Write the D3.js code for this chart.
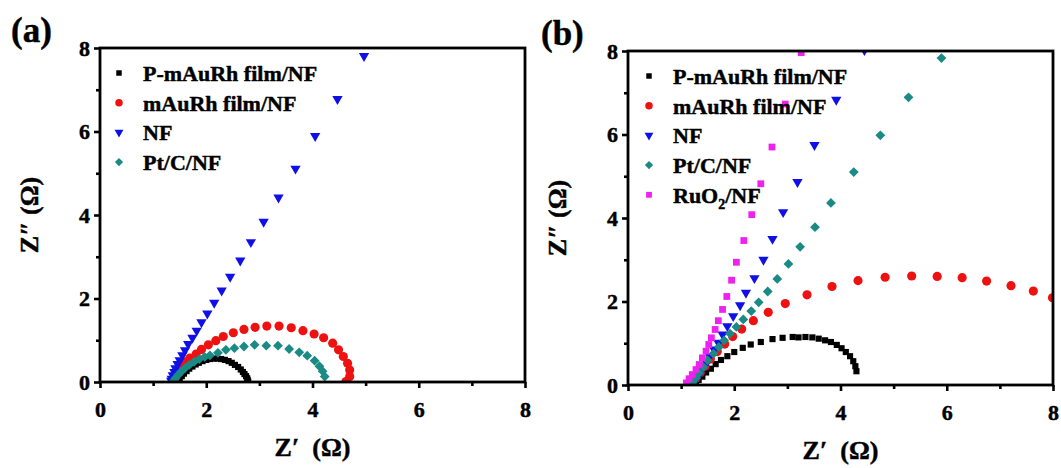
<!DOCTYPE html>
<html>
<head>
<meta charset="utf-8">
<script src="https://cdn.jsdelivr.net/npm/d3@7"></script>
<style>
  html, body { margin: 0; padding: 0; background: #fff; }
  svg { display: block; }
  svg text {
    font-family: "Liberation Serif", "Times New Roman", serif;
    font-weight: bold;
    fill: #000;
    stroke: #000;
    stroke-width: 0.45px;
  }
</style>
</head>
<body>
<div id="chart"></div>
<script>
// ── Data (Z′, Z″ in Ω) ──────────────────────────────────────────────────────

const A_PMAURH_X = [1.47,1.50,1.54,1.58,1.63,1.68,1.74,1.80,1.86,1.93,2.00,2.07,2.14,2.21,2.28,2.35,2.42,2.48,2.54,2.60,2.65,2.69,2.72,2.75,2.77,2.78,2.79];
const A_PMAURH_Y = [0.02,0.08,0.14,0.20,0.26,0.32,0.37,0.42,0.46,0.50,0.53,0.55,0.56,0.56,0.55,0.53,0.50,0.46,0.41,0.36,0.30,0.24,0.19,0.14,0.09,0.05,0.01];

const A_MAURH_X = [1.40,1.43,1.48,1.54,1.60,1.69,1.81,1.91,2.04,2.18,2.32,2.51,2.71,2.92,3.14,3.37,3.60,3.82,4.03,4.21,4.38,4.49,4.58,4.66,4.70,4.70,4.63];
const A_MAURH_Y = [0.04,0.14,0.26,0.38,0.48,0.57,0.67,0.78,0.89,0.99,1.09,1.18,1.26,1.31,1.34,1.34,1.30,1.23,1.15,1.06,0.93,0.77,0.61,0.45,0.29,0.13,0.01];

const A_NF_X = [1.34,1.35,1.37,1.40,1.42,1.46,1.50,1.55,1.60,1.66,1.74,1.82,1.91,2.02,2.15,2.29,2.45,2.64,2.84,3.08,3.36,3.68,4.05,4.47,4.97];
const A_NF_Y = [0.03,0.08,0.16,0.24,0.33,0.43,0.52,0.64,0.76,0.91,1.06,1.23,1.43,1.64,1.90,2.19,2.52,2.91,3.35,3.84,4.42,5.11,5.89,6.78,7.81];

const A_PTC_X = [1.38,1.42,1.47,1.53,1.60,1.68,1.77,1.87,1.97,2.07,2.22,2.37,2.53,2.71,2.91,3.13,3.35,3.56,3.75,3.90,4.04,4.13,4.19,4.23];
const A_PTC_Y = [0.02,0.09,0.17,0.25,0.33,0.41,0.48,0.55,0.60,0.64,0.70,0.77,0.81,0.85,0.89,0.87,0.87,0.79,0.71,0.63,0.51,0.38,0.26,0.13];

const B_PMAURH_X = [1.24,1.28,1.33,1.40,1.47,1.56,1.65,1.75,1.87,2.00,2.16,2.31,2.50,2.72,2.91,3.10,3.21,3.34,3.47,3.59,3.71,3.82,3.93,4.02,4.10,4.18,4.24,4.28,4.30];
const B_PMAURH_Y = [0.01,0.06,0.12,0.20,0.30,0.39,0.50,0.60,0.69,0.79,0.89,0.97,1.03,1.10,1.13,1.15,1.14,1.15,1.14,1.11,1.07,1.03,0.96,0.88,0.79,0.69,0.57,0.45,0.33];

const B_MAURH_X = [1.18,1.22,1.28,1.36,1.45,1.55,1.68,1.82,1.97,2.14,2.36,2.64,2.96,3.37,3.84,4.33,4.84,5.34,5.82,6.29,6.75,7.21,7.63,7.99];
const B_MAURH_Y = [0.01,0.07,0.17,0.30,0.45,0.62,0.80,0.98,1.16,1.34,1.54,1.74,1.95,2.16,2.36,2.50,2.58,2.61,2.60,2.57,2.49,2.38,2.25,2.09];

const B_NF_X = [1.23,1.28,1.34,1.40,1.48,1.54,1.62,1.70,1.78,1.87,1.98,2.11,2.22,2.38,2.55,2.72,2.92,3.19,3.51,3.92,4.45];
const B_NF_Y = [0.05,0.15,0.25,0.37,0.53,0.69,0.85,1.01,1.21,1.41,1.65,1.91,2.21,2.56,3.00,3.50,4.14,4.86,5.75,6.83,8.02];

const B_PTC_X = [1.22,1.28,1.34,1.42,1.50,1.61,1.71,1.81,1.92,2.04,2.17,2.32,2.46,2.63,2.81,3.02,3.24,3.52,3.82,4.25,4.75,5.28,5.90];
const B_PTC_Y = [0.07,0.17,0.29,0.43,0.59,0.75,0.91,1.07,1.23,1.39,1.57,1.77,1.98,2.24,2.54,2.90,3.31,3.78,4.36,5.10,5.98,6.89,7.83];

const B_RUO2_X = [1.10,1.15,1.21,1.28,1.34,1.40,1.47,1.52,1.57,1.64,1.70,1.78,1.86,1.95,2.04,2.18,2.33,2.50,2.71,2.96,3.26];
const B_RUO2_Y = [0.05,0.15,0.25,0.37,0.49,0.65,0.81,0.97,1.13,1.33,1.54,1.81,2.12,2.51,2.94,3.46,4.08,4.82,5.70,6.73,7.96];

const MAJOR_TICKS = [0, 2, 4, 6, 8];
const MINOR_TICKS = [1, 3, 5, 7];

const LEGEND_A = ['P-mAuRh film/NF', 'mAuRh film/NF', 'NF', 'Pt/C/NF'];
const LEGEND_B = ['P-mAuRh film/NF', 'mAuRh film/NF', 'NF', 'Pt/C/NF', 'RuO2/NF'];

// ── Styles ──────────────────────────────────────────────────────────────────

const SERIES_STYLE = [
  { shape: 'square',   color: '#000000', size: 38, legendSize: 30 },
  { shape: 'circle',   color: '#ee1111', size: 66, legendSize: 44 },
  { shape: 'triangle', color: '#1010e6', size: 46, legendSize: 34 },
  { shape: 'diamond',  color: '#1a8a84', size: 48, legendSize: 34 },
  { shape: 'square',   color: '#ee22ee', size: 46, legendSize: 34 },
];

const zip = (xs, ys) => xs.map((x, i) => ({ x, y: ys[i] }));

const PANELS = [
  {
    label: '(a)', labelX: 11, labelY: 42,
    left: 100, right: 525, top: 48, bottom: 382, yTitleX: 38,
    legend: LEGEND_A, legendX: 119, legendTextX: 143,
    series: [
      zip(A_PMAURH_X, A_PMAURH_Y),
      zip(A_MAURH_X,  A_MAURH_Y),
      zip(A_NF_X,     A_NF_Y),
      zip(A_PTC_X,    A_PTC_Y),
    ],
  },
  {
    label: '(b)', labelX: 541, labelY: 45,
    left: 628, right: 1053, top: 51, bottom: 385, yTitleX: 566,
    legend: LEGEND_B, legendX: 649, legendTextX: 673,
    series: [
      zip(B_PMAURH_X, B_PMAURH_Y),
      zip(B_MAURH_X,  B_MAURH_Y),
      zip(B_NF_X,     B_NF_Y),
      zip(B_PTC_X,    B_PTC_Y),
      zip(B_RUO2_X,   B_RUO2_Y),
    ],
  },
];

const W = 1061, H = 468;

const svg = d3.select('#chart').append('svg')
  .attr('width', W).attr('height', H)
  .attr('viewBox', `0 0 ${W} ${H}`);

function markerPath(shape, size) {
  if (shape === 'circle')   return d3.symbol(d3.symbolCircle, size)();
  if (shape === 'triangle') return d3.symbol(d3.symbolTriangle, size)();
  return d3.symbol(d3.symbolSquare, size)();   // square, diamond (rotated)
}

function markerRotation(shape) {
  if (shape === 'triangle') return 180;
  if (shape === 'diamond') return 45;
  return 0;
}

PANELS.forEach((p, pi) => {
  const x = d3.scaleLinear().domain([0, 8]).range([p.left, p.right]);
  const y = d3.scaleLinear().domain([0, 8]).range([p.bottom, p.top]);

  const g = svg.append('g');

  // panel label
  g.append('text')
    .attr('x', p.labelX).attr('y', p.labelY)
    .style('font-size', '35px')
    .text(p.label);

  // clip to plot box
  const clipId = `clip-${pi}`;
  svg.append('defs').append('clipPath').attr('id', clipId)
    .append('rect')
    .attr('x', p.left).attr('y', p.top)
    .attr('width', p.right - p.left).attr('height', p.bottom - p.top);

  // data
  const plot = g.append('g').attr('clip-path', `url(#${clipId})`);
  p.series.forEach((pts, si) => {
    const st = SERIES_STYLE[si];
    plot.append('g').selectAll('path')
      .data(pts)
      .join('path')
      .attr('d', markerPath(st.shape, st.size))
      .attr('transform', d => `translate(${x(d.x)},${y(d.y)}) rotate(${markerRotation(st.shape)})`)
      .attr('fill', st.color);
  });

  // axes: minor ticks, major ticks with labels
  const xMinor = d3.axisBottom(x).tickValues(MINOR_TICKS).tickSize(4).tickFormat('');
  const xMajor = d3.axisBottom(x).tickValues(MAJOR_TICKS).tickSize(6).tickPadding(13).tickFormat(d3.format('d'));
  const yMinor = d3.axisLeft(y).tickValues(MINOR_TICKS).tickSize(4).tickFormat('');
  const yMajor = d3.axisLeft(y).tickValues(MAJOR_TICKS).tickSize(6).tickPadding(4).tickFormat(d3.format('d'));

  [
    g.append('g').attr('transform', `translate(0,${p.bottom})`).call(xMinor),
    g.append('g').attr('transform', `translate(0,${p.bottom})`).call(xMajor),
    g.append('g').attr('transform', `translate(${p.left},0)`).call(yMinor),
    g.append('g').attr('transform', `translate(${p.left},0)`).call(yMajor),
  ].forEach(ax => {
    ax.select('.domain').remove();
    ax.selectAll('line').attr('stroke', '#000').attr('stroke-width', 2.6);
    ax.selectAll('text').style('font-size', '22px');
  });

  // frame
  g.append('rect')
    .attr('x', p.left).attr('y', p.top)
    .attr('width', p.right - p.left).attr('height', p.bottom - p.top)
    .attr('fill', 'none')
    .attr('stroke', '#000')
    .attr('stroke-width', 2.8);

  // axis titles
  g.append('text')
    .attr('x', (p.left + p.right) / 2).attr('y', p.bottom + 74)
    .attr('text-anchor', 'middle')
    .style('font-size', '26px')
    .style('white-space', 'pre')
    .text('Z\u2032  (\u03A9)');

  g.append('text')
    .attr('transform', `translate(${p.yTitleX},${(p.top + p.bottom) / 2}) rotate(-90)`)
    .attr('text-anchor', 'middle')
    .style('font-size', '26px')
    .text('Z\u2033 (\u03A9)');

  // legend
  const leg = g.append('g');
  p.legend.forEach((name, i) => {
    const st = SERIES_STYLE[i];
    const ly = p.top + 25 + i * 29.7;
    leg.append('path')
      .attr('d', markerPath(st.shape, st.legendSize))
      .attr('transform', `translate(${p.legendX},${ly}) rotate(${markerRotation(st.shape)})`)
      .attr('fill', st.color);
    const t = leg.append('text')
      .attr('x', p.legendTextX).attr('y', ly + 8)
      .style('font-size', '22px');
    const m = name.match(/^(RuO)(2)(.*)$/);
    if (m) {
      t.append('tspan').text(m[1]);
      t.append('tspan').style('font-size', '14px').attr('dy', 6).text(m[2]);
      t.append('tspan').attr('dy', -6).text(m[3]);
    } else {
      t.text(name);
    }
  });
});
</script>
</body>
</html>
